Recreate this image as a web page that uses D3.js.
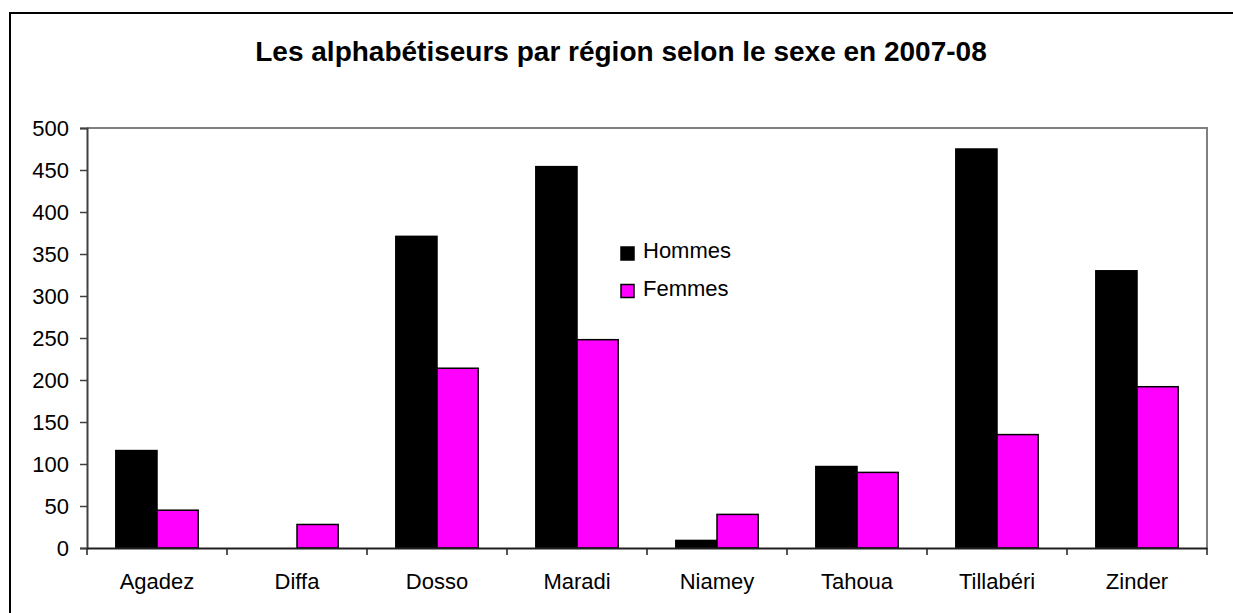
<!DOCTYPE html>
<html>
<head>
<meta charset="utf-8">
<script src="https://cdn.jsdelivr.net/npm/d3@7"></script>
<style>
  body { margin: 0; background: #fff; }
  text { font-family: "Liberation Sans", Arial, sans-serif; }
</style>
</head>
<body>
<script>
const regions = ['Agadez', 'Diffa', 'Dosso', 'Maradi', 'Niamey', 'Tahoua', 'Tillabéri', 'Zinder'];
const series = ['Hommes', 'Femmes'];
const hommes = [116, 0, 371, 454, 9, 97, 475, 330];
const femmes = [45, 28, 214, 248, 40, 90, 135, 192];
const yTicks = [0, 50, 100, 150, 200, 250, 300, 350, 400, 450, 500];
const colors = { Hommes: '#000000', Femmes: '#ff00ff' };

function main() {
    const W = 1233, H = 613;
    const margin = { left: 87, right: 25, top: 128, bottom: 65 };

    const svg = d3.select('body').append('svg')
        .attr('width', W)
        .attr('height', H);

    // cadre du graphique
    svg.append('rect')
        .attr('x', 10).attr('y', 13)
        .attr('width', 1240).attr('height', 620)
        .attr('fill', 'none')
        .attr('stroke', '#000')
        .attr('stroke-width', 2);

    svg.append('text')
        .attr('x', 621)
        .attr('y', 61)
        .attr('text-anchor', 'middle')
        .style('font-size', '28px')
        .style('font-weight', 'bold')
        .text('Les alphabétiseurs par région selon le sexe en 2007-08');

    const x = d3.scaleBand()
        .domain(regions)
        .range([margin.left, W - margin.right - 1]);

    const xs = d3.scaleBand()
        .domain(series)
        .range([0, x.bandwidth()])
        .paddingInner(0)
        .paddingOuter(0.7);

    const y = d3.scaleLinear()
        .domain([0, 500])
        .range([H - margin.bottom, margin.top]);

    const data = regions.map((r, i) => ({ region: r, Hommes: hommes[i], Femmes: femmes[i] }));

    // bordure haute et droite de la zone de tracé
    svg.append('path')
        .attr('d', `M${x.range()[0]},${y(500)}H${x.range()[1]}V${y(0)}`)
        .attr('fill', 'none')
        .attr('stroke', '#808080')
        .attr('stroke-width', 2);

    const g = svg.selectAll('g.region')
        .data(data)
        .enter().append('g')
        .attr('class', 'region')
        .attr('transform', d => 'translate(' + x(d.region) + ',0)');

    g.selectAll('rect')
        .data(d => series.map(s => ({ key: s, value: d[s] })).filter(d => d.value > 0))
        .enter().append('rect')
        .attr('x', d => xs(d.key))
        .attr('y', d => y(d.value))
        .attr('width', xs.bandwidth())
        .attr('height', d => y(0) - y(d.value))
        .attr('fill', d => colors[d.key])
        .attr('stroke', '#000')
        .attr('stroke-width', 1.5);

    // axe vertical
    const yAxis = svg.append('g')
        .attr('transform', 'translate(' + margin.left + ',0)')
        .call(d3.axisLeft(y).tickValues(yTicks).tickSize(7).tickPadding(11));
    yAxis.select('.domain').attr('stroke', '#404040').attr('stroke-width', 2);
    yAxis.selectAll('.tick line').attr('stroke', '#404040').attr('stroke-width', 1.5);
    yAxis.selectAll('.tick text')
        .attr('fill', '#000')
        .style('font-size', '22px')
        .style('font-family', '"Liberation Sans", Arial, sans-serif');

    // axe horizontal
    const xAxis = svg.append('g')
        .attr('transform', 'translate(0,' + y(0) + ')')
        .call(d3.axisBottom(x).tickSize(0).tickPadding(25).tickSizeOuter(0));
    xAxis.select('.domain').attr('stroke', '#202020').attr('stroke-width', 2);
    xAxis.selectAll('.tick text')
        .attr('fill', '#000')
        .style('font-size', '22px')
        .style('font-family', '"Liberation Sans", Arial, sans-serif');

    // graduations entre les catégories
    const bounds = regions.map(r => x(r)).concat([x.range()[1]]);
    xAxis.selectAll('line.sep')
        .data(bounds)
        .enter().append('line')
        .attr('class', 'sep')
        .attr('x1', d => d).attr('x2', d => d)
        .attr('y1', 0).attr('y2', 7)
        .attr('stroke', '#202020')
        .attr('stroke-width', 1.5);

    // légende
    const legend = svg.selectAll('g.legend')
        .data(series)
        .enter().append('g')
        .attr('class', 'legend')
        .attr('transform', (d, i) => 'translate(621,' + (247 + i * 37.5) + ')');

    legend.append('rect')
        .attr('width', 13).attr('height', 13)
        .attr('fill', d => colors[d])
        .attr('stroke', '#000')
        .attr('stroke-width', 1.5);

    legend.append('text')
        .attr('x', 22)
        .attr('y', 11)
        .style('font-size', '22px')
        .text(d => d);
}
window.onload = main;
</script>
</body>
</html>
